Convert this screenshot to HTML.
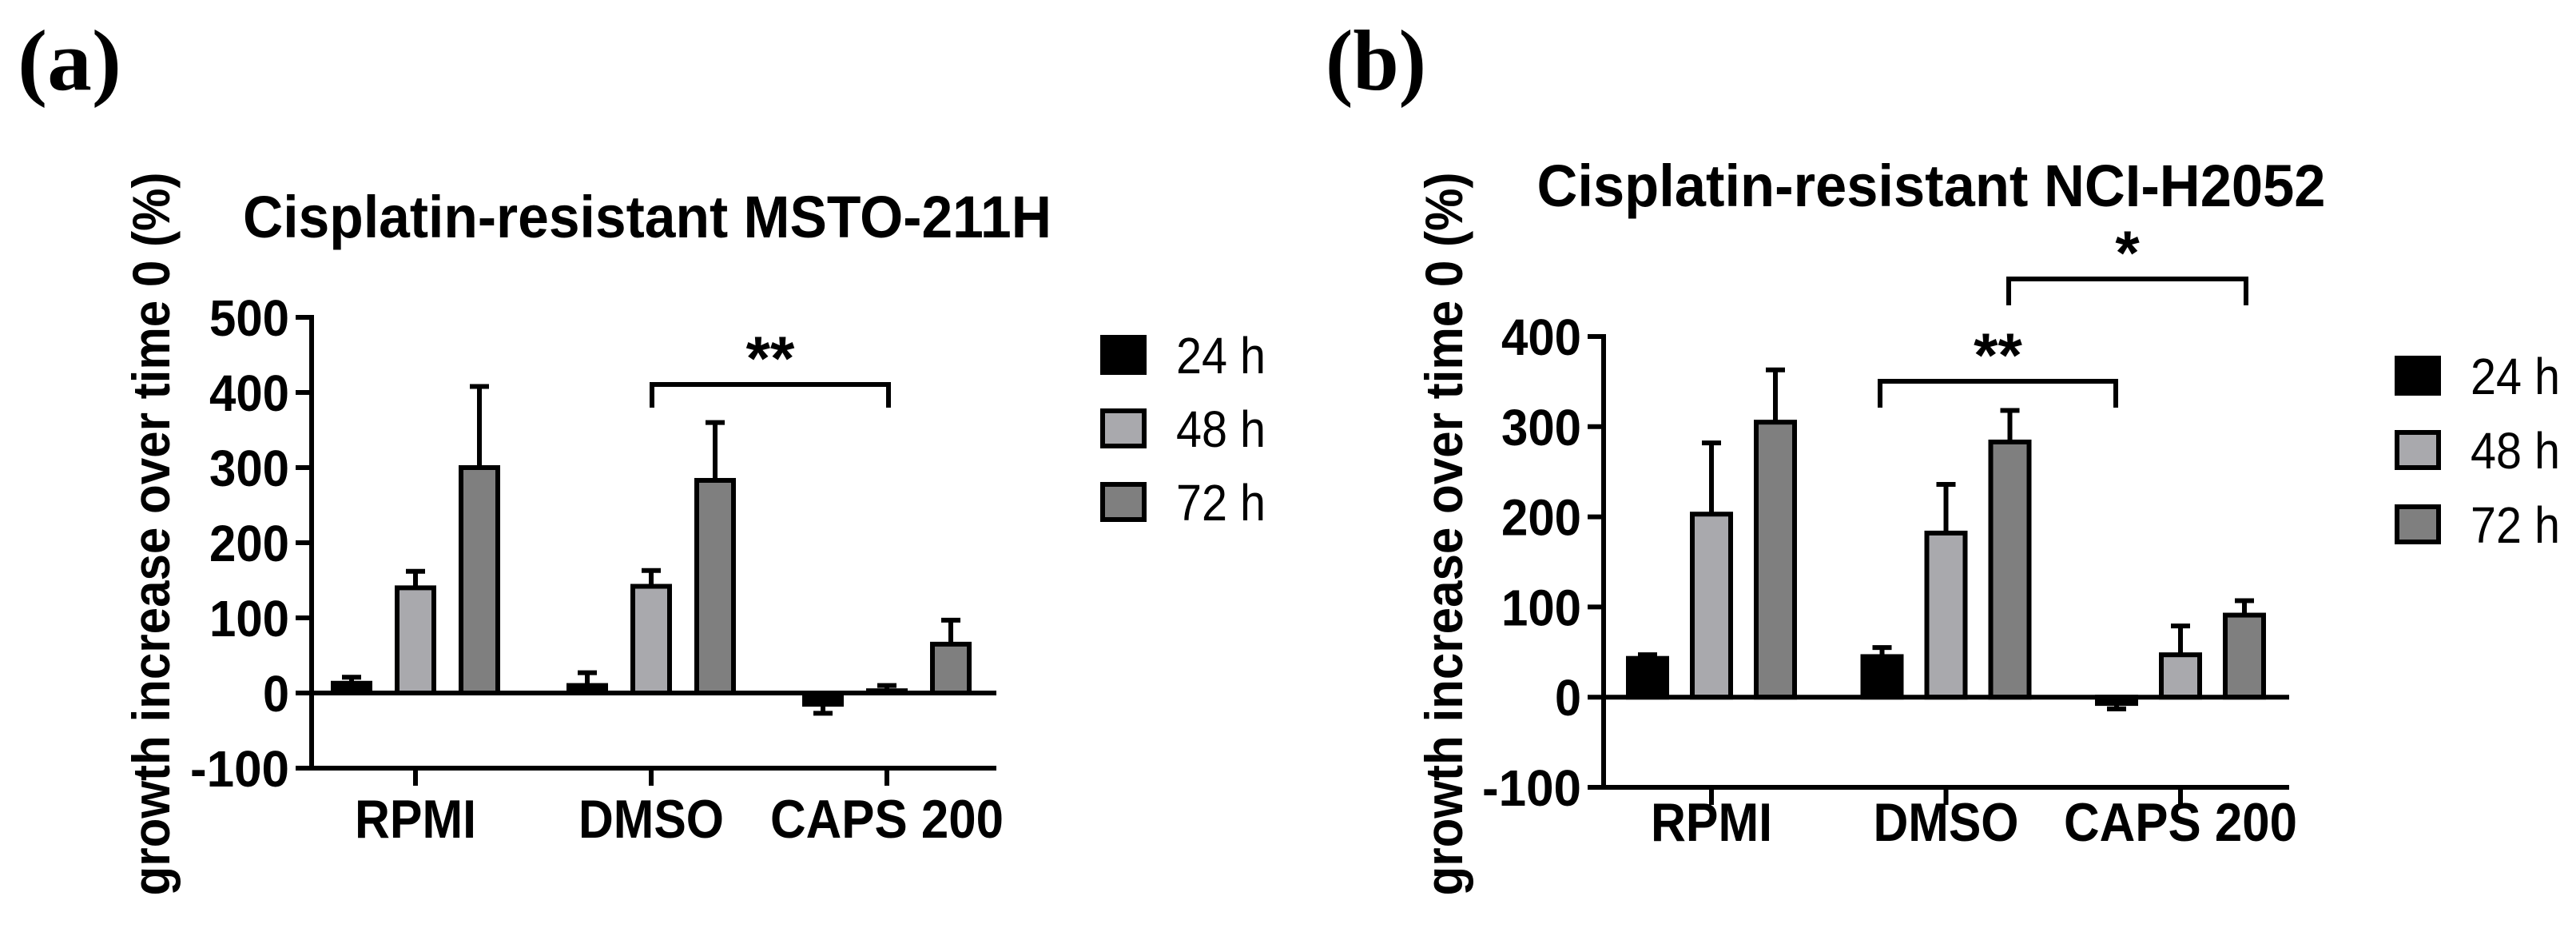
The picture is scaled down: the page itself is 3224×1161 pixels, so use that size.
<!DOCTYPE html>
<html><head><meta charset="utf-8"><style>
html,body{margin:0;padding:0;background:#fff;overflow:hidden;width:3224px;height:1161px;}
svg{display:block;}
text{font-family:"Liberation Sans",Arial,sans-serif;font-weight:bold;fill:#000;}
</style></head><body>
<svg id="fig" width="3224" height="1161" viewBox="0 0 3224 1161">
<text x="22" y="112" textLength="130" lengthAdjust="spacingAndGlyphs" style="font-family:'Liberation Serif',serif;font-size:108px">(a)</text>
<text x="1659" y="112" textLength="126" lengthAdjust="spacingAndGlyphs" style="font-family:'Liberation Serif',serif;font-size:108px">(b)</text>
</svg>
<script>
const categories = ["RPMI","DMSO","CAPS 200"];
const seriesNames = ["24 h","48 h","72 h"];
const seriesColors = ["#000000","#a9a9ad","#7f7f7f"];
// Panel a
const aVals24 = [13, 10, -15];
const aErr24 = [21, 27, -27];
const aVals48 = [140, 142, 3];
const aErr48 = [162, 163, 10];
const aVals72 = [300, 283, 65];
const aErr72 = [408, 360, 97];
const aTicks = [500, 400, 300, 200, 100, 0, -100];
// Panel b
const bVals24 = [43, 45, -7];
const bErr24 = [47, 55, -13];
const bVals48 = [203, 182, 47];
const bErr48 = [282, 236, 79];
const bVals72 = [305, 283, 91];
const bErr72 = [363, 318, 107];
const bTicks = [400, 300, 200, 100, 0, -100];

const NS = "http://www.w3.org/2000/svg";
const svg = document.getElementById("fig");
function el(tag, attrs, parent) {
  const e = document.createElementNS(NS, tag);
  for (const k in attrs) e.setAttribute(k, attrs[k]);
  (parent || svg).appendChild(e);
  return e;
}

function panel(cfg) {
  const g = el("g", {});
  
  
  const yScale = v => cfg.y0 + (v - cfg.vmin) / (cfg.vmax - cfg.vmin) * (cfg.y1 - cfg.y0);
  const xScale = i => cfg.cx0 + i * cfg.cstep;
  const SW = 6;
  const t = el("text", {x: cfg.titleX, y: cfg.titleY, "text-anchor": "middle", "font-size": 74, textLength: cfg.titleW, lengthAdjust: "spacingAndGlyphs"}, g);
  t.textContent = cfg.title;
  
  
  const yl = el("text", {x: 0, y: 0, "text-anchor": "middle", "font-size": 66, textLength: 905, lengthAdjust: "spacingAndGlyphs", transform: `translate(${cfg.ylabX},${cfg.ylabY}) rotate(-90)`}, g);
  yl.textContent = "growth increase over time 0 (%)";
  
  
  const vals = [cfg.v24, cfg.v48, cfg.v72];
  const errs = [cfg.e24, cfg.e48, cfg.e72];
  const bw = cfg.bw;
  for (let s = 0; s < 3; s++) {
    for (let i = 0; i < categories.length; i++) {
      const cx = xScale(i) + (s - 1) * cfg.boff;
      const v = vals[s][i], e = errs[s][i];
      const yv = yScale(v), yz = yScale(0), ye = yScale(e);
      const l = el("line", {x1: cx, x2: cx, y1: yv, y2: ye, stroke: "#000", "stroke-width": SW}, g);
      
      
      const c = el("line", {x1: cx - 12, x2: cx + 12, y1: ye, y2: ye, stroke: "#000", "stroke-width": SW}, g);
      
      
      const r = el("rect", {x: cx - bw/2, y: Math.min(yv, yz), width: bw, height: Math.max(Math.abs(yz - yv), 2), fill: seriesColors[s], stroke: "#000", "stroke-width": SW}, g);
      
      
    }
  }
  const ya = el("line", {x1: cfg.ax, x2: cfg.ax, y1: yScale(cfg.vmax) - 3, y2: yScale(cfg.vmin) + 3, stroke: "#000", "stroke-width": SW}, g);
  
  
  const zl = el("line", {x1: cfg.ax, x2: cfg.axEnd, y1: yScale(0), y2: yScale(0), stroke: "#000", "stroke-width": SW}, g);
  
  
  const xa = el("line", {x1: cfg.ax, x2: cfg.axEnd, y1: yScale(cfg.vmin), y2: yScale(cfg.vmin), stroke: "#000", "stroke-width": SW}, g);
  
  
  for (const tv of cfg.ticks) {
    const ty = yScale(tv);
    const tl = el("line", {x1: cfg.ax - 20, x2: cfg.ax, y1: ty, y2: ty, stroke: "#000", "stroke-width": SW}, g);
    
    
    const len = String(tv).length;
    const tt = el("text", {x: cfg.ax - 28, y: ty + 23, "text-anchor": "end", "font-size": 64, textLength: len === 4 ? 124 : (len === 3 ? 100 : 33), lengthAdjust: "spacingAndGlyphs"}, g);
    tt.textContent = tv;
    
    
  }
  const xw = [152, 182, 292];
  for (let i = 0; i < categories.length; i++) {
    const x = xScale(i);
    const tl = el("line", {x1: x, x2: x, y1: yScale(cfg.vmin), y2: yScale(cfg.vmin) + 22, stroke: "#000", "stroke-width": SW}, g);
    
    
    const tt = el("text", {x: x, y: cfg.xlabY, "text-anchor": "middle", "font-size": 68, textLength: xw[i], lengthAdjust: "spacingAndGlyphs"}, g);
    tt.textContent = categories[i];
    
    
  }
  for (const b of cfg.brackets) {
    const p = el("path", {d: `M${b.x1},${b.yb} L${b.x1},${b.yt} L${b.x2},${b.yt} L${b.x2},${b.yb}`, fill: "none", stroke: "#000", "stroke-width": SW}, g);
    
    
    const st = el("text", {x: (b.x1 + b.x2) / 2, y: b.yt - 6, "text-anchor": "middle", "font-size": 78}, g);
    st.textContent = b.label;
    
    
  }
  for (let s = 0; s < 3; s++) {
    const ly = cfg.legY + s * cfg.legStep;
    const r = el("rect", {x: cfg.legX, y: ly, width: 52, height: 44, fill: seriesColors[s], stroke: "#000", "stroke-width": SW}, g);
    
    
    const lt = el("text", {x: cfg.legX + 92, y: ly + 45, "font-size": 64, textLength: 112, lengthAdjust: "spacingAndGlyphs"}, g);
    lt.style.fontWeight = "normal";
    lt.textContent = seriesNames[s];
    
    
  }
}

panel({name: "panel-a-chart", title: "Cisplatin-resistant MSTO-211H", titleX: 810, titleY: 297, titleW: 1012,
  ylabX: 212, ylabY: 668, xlabY: 1048,
  vmin: -100, vmax: 500, y0: 961, y1: 397, ax: 390, axEnd: 1247,
  cx0: 520, cstep: 295, boff: 80, bw: 46,
  v24: aVals24, e24: aErr24, v48: aVals48, e48: aErr48, v72: aVals72, e72: aErr72, ticks: aTicks,
  brackets: [{x1: 816, x2: 1112, yt: 481, yb: 510, label: "**"}],
  legX: 1380, legY: 422, legStep: 92});

panel({name: "panel-b-chart", title: "Cisplatin-resistant NCI-H2052", titleX: 2417, titleY: 258, titleW: 987,
  ylabX: 1830, ylabY: 668, xlabY: 1052,
  vmin: -100, vmax: 400, y0: 985, y1: 421, ax: 2007, axEnd: 2865,
  cx0: 2142, cstep: 293.5, boff: 80, bw: 48,
  v24: bVals24, e24: bErr24, v48: bVals48, e48: bErr48, v72: bVals72, e72: bErr72, ticks: bTicks,
  brackets: [{x1: 2353, x2: 2648, yt: 477, yb: 510, label: "**"}, {x1: 2514, x2: 2811, yt: 349, yb: 382, label: "*"}],
  legX: 3000, legY: 448, legStep: 93});
</script>
</body></html>
